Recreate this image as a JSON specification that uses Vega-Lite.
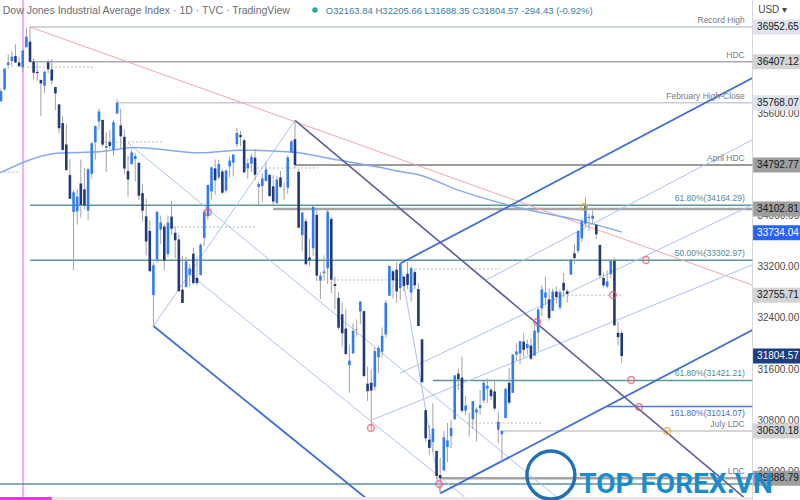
{
  "$schema": "https://vega.github.io/schema/vega-lite/v6.json",
  "width": 752,
  "height": 500,
  "autosize": {"type": "none"},
  "padding": {"left": 0, "top": 0, "right": 48, "bottom": 0},
  "background": "white",
  "config": {"view": {"stroke": null}, "font": "Liberation Sans"},
  "resolve": {"scale": {"color": "independent"}},
  "datasets": {
    "one": [{}],
    "candles": [
      {"i":-8,"o":35790,"h":35988,"l":35780,"c":35950},
      {"i":-7,"o":35975,"h":36303,"l":35955,"c":36302},
      {"i":-6,"o":36357,"h":36527,"l":36302,"c":36398},
      {"i":-5,"o":36421,"h":36572,"l":36330,"c":36488},
      {"i":-4,"o":36497,"h":36679,"l":36393,"c":36398},
      {"i":-3,"o":36398,"h":36484,"l":36328,"c":36338},
      {"i":-2,"o":36321,"h":36595,"l":36246,"c":36585},
      {"i":-1,"o":36636,"h":36934,"l":36636,"c":36800},
      {"i":0,"o":36722,"h":36952.65,"l":36406,"c":36407},
      {"i":1,"o":36409,"h":36464,"l":36133,"c":36236},
      {"i":2,"o":36250,"h":36384,"l":36111,"c":36232},
      {"i":3,"o":36125,"h":36125,"l":35555,"c":36069},
      {"i":4,"o":36032,"h":36273,"l":35917,"c":36252},
      {"i":5,"o":36401,"h":36440,"l":36232,"c":36290},
      {"i":6,"o":36288,"h":36451,"l":36050,"c":36114},
      {"i":7,"o":36014,"h":36014,"l":35652,"c":35912},
      {"i":8,"o":35742,"h":35742,"l":35288,"c":35369},
      {"i":9,"o":35449,"h":35552,"l":35009,"c":35029},
      {"i":10,"o":35115,"h":35438,"l":34700,"c":34715},
      {"i":11,"o":34634,"h":34883,"l":34258,"c":34265},
      {"i":12,"o":34058,"h":34404,"l":33150,"c":34365},
      {"i":13,"o":34067,"h":34414,"l":33860,"c":34298},
      {"i":14,"o":34503,"h":34881,"l":33970,"c":34168},
      {"i":15,"o":34411,"h":34746,"l":34100,"c":34160},
      {"i":16,"o":34079,"h":34747,"l":33934,"c":34725},
      {"i":17,"o":34655,"h":35152,"l":34584,"c":35132},
      {"i":18,"o":35150,"h":35407,"l":34874,"c":35405},
      {"i":19,"o":35474,"h":35677,"l":35348,"c":35630},
      {"i":20,"o":35499,"h":35499,"l":35072,"c":35111},
      {"i":21,"o":35063,"h":35304,"l":34683,"c":35089},
      {"i":22,"o":35152,"h":35334,"l":35045,"c":35091},
      {"i":23,"o":35031,"h":35498,"l":34937,"c":35463},
      {"i":24,"o":35598,"h":35824,"l":35598,"c":35768},
      {"i":25,"o":35412,"h":35676,"l":35041,"c":35242},
      {"i":26,"o":35234,"h":35345,"l":34653,"c":34738},
      {"i":27,"o":34698,"h":34934,"l":34296,"c":34566},
      {"i":28,"o":34805,"h":35034,"l":34805,"c":34989},
      {"i":29,"o":34887,"h":34979,"l":34537,"c":34934},
      {"i":30,"o":34824,"h":34850,"l":34248,"c":34312},
      {"i":31,"o":34353,"h":34490,"l":33906,"c":34079},
      {"i":32,"o":33990,"h":34268,"l":33380,"c":33597},
      {"i":33,"o":33761,"h":33927,"l":33115,"c":33132},
      {"i":34,"o":32757,"h":33272,"l":32272,"c":33224},
      {"i":35,"o":33308,"h":34085,"l":33266,"c":34059},
      {"i":36,"o":33783,"h":34000,"l":33559,"c":33893},
      {"i":37,"o":33830,"h":33859,"l":33149,"c":33295},
      {"i":38,"o":33401,"h":34002,"l":33354,"c":33891},
      {"i":39,"o":33985,"h":34236,"l":33704,"c":33795},
      {"i":40,"o":33732,"h":33829,"l":33333,"c":33615},
      {"i":41,"o":33627,"h":33711,"l":32805,"c":32818},
      {"i":42,"o":32842,"h":33371,"l":32632,"c":32633},
      {"i":43,"o":32882,"h":33354,"l":32882,"c":33286},
      {"i":44,"o":33074,"h":33239,"l":32894,"c":33174},
      {"i":45,"o":33405,"h":33495,"l":32920,"c":32944},
      {"i":46,"o":33027,"h":33346,"l":32905,"c":32945},
      {"i":47,"o":33069,"h":33568,"l":33069,"c":33545},
      {"i":48,"o":33653,"h":34099,"l":33527,"c":34063},
      {"i":49,"o":33992,"h":34480,"l":33937,"c":34481},
      {"i":50,"o":34378,"h":34770,"l":34252,"c":34755},
      {"i":51,"o":34739,"h":34879,"l":34328,"c":34553},
      {"i":52,"o":34598,"h":34876,"l":34569,"c":34808},
      {"i":53,"o":34691,"h":34726,"l":34343,"c":34359},
      {"i":54,"o":34394,"h":34721,"l":34360,"c":34707},
      {"i":55,"o":34770,"h":34925,"l":34600,"c":34862},
      {"i":56,"o":34830,"h":34966,"l":34613,"c":34955},
      {"i":57,"o":35119,"h":35372,"l":35074,"c":35294},
      {"i":58,"o":35263,"h":35325,"l":35085,"c":35229},
      {"i":59,"o":35180,"h":35208,"l":34670,"c":34678},
      {"i":60,"o":34740,"h":34889,"l":34577,"c":34818},
      {"i":61,"o":34813,"h":34976,"l":34683,"c":34922},
      {"i":62,"o":34908,"h":35047,"l":34552,"c":34641},
      {"i":63,"o":34451,"h":34528,"l":34157,"c":34497},
      {"i":64,"o":34464,"h":34667,"l":34216,"c":34583},
      {"i":65,"o":34543,"h":34835,"l":34543,"c":34721},
      {"i":66,"o":34637,"h":34656,"l":34293,"c":34308},
      {"i":67,"o":34460,"h":34633,"l":34168,"c":34221},
      {"i":68,"o":34197,"h":34624,"l":34175,"c":34565},
      {"i":69,"o":34599,"h":34700,"l":34430,"c":34452},
      {"i":70,"o":34416,"h":34516,"l":34245,"c":34412},
      {"i":71,"o":34438,"h":34946,"l":34341,"c":34912},
      {"i":72,"o":34988,"h":35186,"l":34976,"c":35161},
      {"i":73,"o":35196,"h":35492,"l":34738,"c":34793},
      {"i":74,"o":34687,"h":34732,"l":33810,"c":33811},
      {"i":75,"o":33698,"h":34060,"l":33451,"c":34049},
      {"i":76,"o":33914,"h":33961,"l":33221,"c":33240},
      {"i":77,"o":33346,"h":33641,"l":33209,"c":33302},
      {"i":78,"o":33489,"h":34157,"l":33370,"c":34137},
      {"i":79,"o":34012,"h":34123,"l":32977,"c":33061},
      {"i":80,"o":32982,"h":33118,"l":32696,"c":33062},
      {"i":81,"o":33100,"h":33377,"l":32983,"c":33128},
      {"i":82,"o":33177,"h":34117,"l":32932,"c":34061},
      {"i":83,"o":33949,"h":33978,"l":32792,"c":32998},
      {"i":84,"o":32930,"h":33046,"l":32542,"c":32899},
      {"i":85,"o":32713,"h":32802,"l":32216,"c":32246},
      {"i":86,"o":32457,"h":32641,"l":31952,"c":32160},
      {"i":87,"o":32233,"h":32536,"l":31825,"c":31834},
      {"i":88,"o":31660,"h":31983,"l":31228,"c":31730},
      {"i":89,"o":31844,"h":32316,"l":31844,"c":32196},
      {"i":90,"o":32216,"h":32375,"l":32107,"c":32223},
      {"i":91,"o":32501,"h":32661,"l":32300,"c":32654},
      {"i":92,"o":32506,"h":32506,"l":31474,"c":31490},
      {"i":93,"o":31371,"h":31638,"l":31098,"c":31253},
      {"i":94,"o":31385,"h":31585,"l":30636,"c":31262},
      {"i":95,"o":31322,"h":31937,"l":31264,"c":31880},
      {"i":96,"o":31783,"h":31964,"l":31535,"c":31928},
      {"i":97,"o":31871,"h":32250,"l":31783,"c":32120},
      {"i":98,"o":32141,"h":32679,"l":32092,"c":32637},
      {"i":99,"o":32747,"h":33213,"l":32747,"c":33213},
      {"i":100,"o":33130,"h":33144,"l":32703,"c":32990},
      {"i":101,"o":33156,"h":33271,"l":32637,"c":32813},
      {"i":102,"o":32865,"h":33252,"l":32675,"c":33248},
      {"i":103,"o":33047,"h":33047,"l":32813,"c":32900},
      {"i":104,"o":33091,"h":33273,"l":32855,"c":32916},
      {"i":105,"o":32796,"h":33203,"l":32658,"c":33180},
      {"i":106,"o":33116,"h":33150,"l":32852,"c":32910},
      {"i":107,"o":32851,"h":32945,"l":32270,"c":32273},
      {"i":108,"o":32065,"h":32065,"l":31388,"c":31393},
      {"i":109,"o":30956,"h":30980,"l":30457,"c":30517},
      {"i":110,"o":30493,"h":30722,"l":30248,"c":30365},
      {"i":111,"o":30456,"h":31066,"l":30301,"c":30669},
      {"i":112,"o":30318,"h":30318,"l":29872,"c":29927},
      {"i":113,"o":29941,"h":30215,"l":29653,"c":29889},
      {"i":114,"o":30011,"h":30628,"l":30011,"c":30530},
      {"i":115,"o":30379,"h":30756,"l":30143,"c":30483},
      {"i":116,"o":30548,"h":30804,"l":30363,"c":30677},
      {"i":117,"o":30812,"h":31500,"l":30812,"c":31501},
      {"i":118,"o":31528,"h":31607,"l":31271,"c":31439},
      {"i":119,"o":31466,"h":31794,"l":30916,"c":30947},
      {"i":120,"o":30949,"h":31180,"l":30877,"c":31029},
      {"i":121,"o":30775,"h":30919,"l":30543,"c":30775},
      {"i":122,"o":30814,"h":31102,"l":30662,"c":31097},
      {"i":123,"o":30919,"h":30999,"l":30468,"c":30968},
      {"i":124,"o":30987,"h":31270,"l":30885,"c":31037},
      {"i":125,"o":31106,"h":31427,"l":31060,"c":31385},
      {"i":126,"o":31295,"h":31452,"l":31070,"c":31338},
      {"i":127,"o":31275,"h":31307,"l":31108,"c":31174},
      {"i":128,"o":31249,"h":31403,"l":30943,"c":30982},
      {"i":129,"o":30651,"h":30933,"l":30438,"c":30773},
      {"i":130,"o":30580,"h":30643,"l":30143,"c":30630},
      {"i":131,"o":30831,"h":31310,"l":30831,"c":31288},
      {"i":132,"o":31384,"h":31616,"l":31043,"c":31073},
      {"i":133,"o":31228,"h":31829,"l":31228,"c":31827},
      {"i":134,"o":31826,"h":32003,"l":31733,"c":31875},
      {"i":135,"o":31842,"h":32039,"l":31677,"c":32036},
      {"i":136,"o":32029,"h":32167,"l":31785,"c":31900},
      {"i":137,"o":31927,"h":32060,"l":31824,"c":31990},
      {"i":138,"o":31967,"h":32081,"l":31735,"c":31762},
      {"i":139,"o":31809,"h":32278,"l":31809,"c":32198},
      {"i":140,"o":32169,"h":32555,"l":31880,"c":32530},
      {"i":141,"o":32549,"h":32910,"l":32430,"c":32845},
      {"i":142,"o":32715,"h":33044,"l":32597,"c":32798},
      {"i":143,"o":32692,"h":32864,"l":32356,"c":32397},
      {"i":144,"o":32510,"h":32856,"l":32510,"c":32813},
      {"i":145,"o":32811,"h":32891,"l":32620,"c":32727},
      {"i":146,"o":32560,"h":32849,"l":32520,"c":32803},
      {"i":147,"o":32949,"h":33105,"l":32718,"c":32833},
      {"i":148,"o":32816,"h":32852,"l":32637,"c":32775},
      {"i":149,"o":33076,"h":33326,"l":33076,"c":33310},
      {"i":150,"o":33409,"h":33563,"l":33250,"c":33337},
      {"i":151,"o":33449,"h":33761,"l":33413,"c":33761},
      {"i":152,"o":33646,"h":33954,"l":33589,"c":33913},
      {"i":153,"o":33874,"h":34281,"l":33832,"c":34152},
      {"i":154,"o":33966,"h":34029,"l":33761,"c":33981},
      {"i":155,"o":33951,"h":34082,"l":33881,"c":33999},
      {"i":156,"o":33859,"h":33865,"l":33632,"c":33707},
      {"i":157,"o":33542,"h":33542,"l":33015,"c":33064},
      {"i":158,"o":33025,"h":33109,"l":32879,"c":32910},
      {"i":159,"o":32890,"h":33142,"l":32864,"c":32970},
      {"i":160,"o":33085,"h":33311,"l":33025,"c":33292},
      {"i":161,"o":33294,"h":33342,"l":32282,"c":32283},
      {"i":162,"o":32166,"h":32338,"l":31971,"c":32099},
      {"i":163,"o":32163.84,"h":32205.66,"l":31688.35,"c":31804.57}
    ],
    "ma": [
      {"i":-8.3,"p":34670},{"i":8,"p":34980},{"i":19,"p":35000},{"i":29,"p":35065},
      {"i":47,"p":34985},{"i":58,"p":35025},{"i":72,"p":34995},{"i":85,"p":34870},
      {"i":96,"p":34760},{"i":102,"p":34690},{"i":107,"p":34640},{"i":118,"p":34400},
      {"i":135,"p":34120},{"i":151,"p":33930},{"i":163,"p":33745}
    ],
    "levels": [
      {"p":36952.65,"a":0,"b":199,"g":"rec"},
      {"p":36407.12,"a":0,"b":199,"g":"hdc"},
      {"p":35768.07,"a":24,"b":199,"g":"feb"},
      {"p":34792.77,"a":73,"b":199,"g":"apr"},
      {"p":34164.29,"a":0,"b":199,"g":"teal"},
      {"p":33302.97,"a":0,"b":199,"g":"teal"},
      {"p":31421.21,"a":111,"b":199,"g":"teal"},
      {"p":31014.07,"a":159,"b":199,"g":"blue"},
      {"p":30630.18,"a":130,"b":199,"g":"jul"},
      {"p":29800,"a":-8.3,"b":199,"g":"teal"}
    ],
    "thick": [
      {"p":34102.81,"a":67,"b":199},
      {"p":29888.79,"a":113,"b":199}
    ],
    "dots": [
      {"p":36326,"a":-0.8,"b":17.4},
      {"p":35153,"a":19.3,"b":36.6},
      {"p":34683,"a":-8.3,"b":-2.8},
      {"p":33822,"a":39.4,"b":62},
      {"p":34746,"a":62.5,"b":79.3},
      {"p":32993,"a":83.5,"b":102},
      {"p":33165,"a":106,"b":129.5},
      {"p":30755,"a":120.4,"b":141.3},
      {"p":32756,"a":148,"b":163}
    ],
    "diag": [
      {"id":"pink","g":"pink","i":0,"p":36952.65},{"id":"pink","g":"pink","i":198.9,"p":32915},
      {"id":"h1","g":"light","i":34,"p":32272},{"id":"h1","g":"light","i":73,"p":35492},
      {"id":"h2","g":"light","i":102,"p":33252},{"id":"h2","g":"light","i":113,"p":29653},
      {"id":"lda","g":"light","i":27,"p":35137},{"id":"lda","g":"light","i":146,"p":29550},
      {"id":"ldb","g":"light","i":44,"p":33087},{"id":"ldb","g":"light","i":120.7,"p":29550},
      {"id":"lua","g":"light","i":125.6,"p":32993},{"id":"lua","g":"light","i":198.9,"p":35184},
      {"id":"lub","g":"light","i":102,"p":31537},{"id":"lub","g":"light","i":198.9,"p":34167},
      {"id":"luc","g":"light","i":94.2,"p":30802},{"id":"luc","g":"light","i":198.9,"p":33228},
      {"id":"a","g":"bold","i":34,"p":32272},{"id":"a","g":"bold","i":95,"p":29466},
      {"id":"b5","g":"bold","i":102,"p":33252},{"id":"b5","g":"bold","i":199,"p":36154},
      {"id":"b6","g":"bold","i":113,"p":29653},{"id":"b6","g":"bold","i":199,"p":32210},
      {"id":"sl","g":"slate","i":73,"p":35492},{"id":"sl","g":"slate","i":199,"p":29480}
    ],
    "circles": [
      {"i":49,"p":34057,"k":"red"},{"i":93.9,"p":30677,"k":"red"},{"i":112.7,"p":29800,"k":"red"},
      {"i":139.7,"p":32336,"k":"red"},{"i":152.6,"p":34135,"k":"orange"},{"i":160.6,"p":32758,"k":"red"},
      {"i":169.7,"p":33306,"k":"red"},{"i":165.6,"p":31428,"k":"red"},{"i":167.8,"p":31005,"k":"red"},
      {"i":175.5,"p":30630,"k":"orange"}
    ],
    "labUp": [
      {"t":"Record High","p":36952.65,"k":"gray"},
      {"t":"HDC","p":36407.12,"k":"gray"},
      {"t":"February High-Close","p":35768.07,"k":"gray"},
      {"t":"April HDC","p":34792.77,"k":"gray"},
      {"t":"61.80%(34164.29)","p":34164.29,"k":"teal"},
      {"t":"50.00%(33302.97)","p":33302.97,"k":"teal"},
      {"t":"61.80%(31421.21)","p":31421.21,"k":"teal"},
      {"t":"July LDC","p":30630.18,"k":"gray"},
      {"t":"LDC","p":29888.79,"k":"gray"}
    ],
    "labDown": [
      {"t":"161.80%(31014.07)","p":31014.07,"k":"blue"}
    ],
    "tags": [
      {"t":"36952.65","p":36952.65,"k":"lt"},
      {"t":"36407.12","p":36407.12,"k":"md"},
      {"t":"35768.07","p":35768.07,"k":"lt"},
      {"t":"34792.77","p":34792.77,"k":"dk"},
      {"t":"34102.81","p":34102.81,"k":"dk"},
      {"t":"33734.04","p":33734.04,"k":"blue"},
      {"t":"32755.71","p":32755.71,"k":"md"},
      {"t":"31804.57","p":31804.57,"k":"navy"},
      {"t":"30630.18","p":30630.18,"k":"md"},
      {"t":"29888.79","p":29888.79,"k":"dk"}
    ]
  },
  "layer": [
    {
      "data": {"name": "one"},
      "mark": {"type": "rule", "color": "#f6a8f4", "strokeWidth": 2},
      "encoding": {
        "x": {"datum": -1.9, "type": "quantitative", "scale": {"domain": [-8.264, 198.898], "nice": false, "zero": false}, "axis": null},
        "y": {"datum": 37375, "type": "quantitative", "scale": {"domain": [29550, 37375], "nice": false, "zero": false},
              "axis": {"orient": "right", "values": [30000,30400,30800,31200,31600,32000,32400,32800,33200,33600,34000,34400,34800,35200,35600,36000,36400,36800],
                       "format": ".2f", "ticks": false, "grid": false, "domain": true, "domainColor": "#d6d8de", "labelColor": "#4a4a4a",
                       "labelFontSize": 10, "labelFont": "Liberation Sans", "labelPadding": 5, "title": null, "labelOverlap": false, "labelBound": false, "labelFlush": false, "zindex": 0}},
        "y2": {"datum": 29550}
      }
    },
    {
      "data": {"name": "levels"},
      "mark": {"type": "rule", "strokeWidth": 1.5},
      "encoding": {
        "x": {"field": "a", "type": "quantitative"},
        "x2": {"field": "b"},
        "y": {"field": "p", "type": "quantitative", "title": null},
        "color": {"field": "g", "type": "nominal", "legend": null,
                  "scale": {"domain": ["rec","hdc","feb","apr","teal","blue","jul"], "range": ["#bcc6d8","#a8aab0","#c9ccd3","#7a7a7a","#5d979c","#4c7ee0","#c8c8c8"]}}
      }
    },
    {
      "data": {"name": "thick"},
      "mark": {"type": "rule", "strokeWidth": 2.5, "color": "#a4a4a4"},
      "encoding": {
        "x": {"field": "a", "type": "quantitative"},
        "x2": {"field": "b"},
        "y": {"field": "p", "type": "quantitative", "title": null}
      }
    },
    {
      "data": {"name": "dots"},
      "mark": {"type": "rule", "strokeWidth": 1, "color": "#b8b8b8", "strokeDash": [2, 2]},
      "encoding": {
        "x": {"field": "a", "type": "quantitative"},
        "x2": {"field": "b"},
        "y": {"field": "p", "type": "quantitative", "title": null}
      }
    },
    {
      "data": {"name": "diag"},
      "transform": [{"filter": "datum.g == 'pink'"}],
      "mark": {"type": "line", "clip": true, "strokeWidth": 1, "color": "#f5a5a5"},
      "encoding": {
        "x": {"field": "i", "type": "quantitative"},
        "y": {"field": "p", "type": "quantitative", "title": null},
        "detail": {"field": "id"}
      }
    },
    {
      "data": {"name": "diag"},
      "transform": [{"filter": "datum.g == 'light'"}],
      "mark": {"type": "line", "clip": true, "strokeWidth": 1, "color": "#a9c3f3"},
      "encoding": {
        "x": {"field": "i", "type": "quantitative"},
        "y": {"field": "p", "type": "quantitative", "title": null},
        "detail": {"field": "id"}
      }
    },
    {
      "data": {"name": "ma"},
      "mark": {"type": "line", "clip": true, "strokeWidth": 1.5, "color": "#86a9f0", "interpolate": "monotone"},
      "encoding": {
        "x": {"field": "i", "type": "quantitative"},
        "y": {"field": "p", "type": "quantitative", "title": null}
      }
    },
    {
      "data": {"name": "diag"},
      "transform": [{"filter": "datum.g == 'bold'"}],
      "mark": {"type": "line", "clip": true, "strokeWidth": 1.8, "color": "#3f70d6"},
      "encoding": {
        "x": {"field": "i", "type": "quantitative"},
        "y": {"field": "p", "type": "quantitative", "title": null},
        "detail": {"field": "id"}
      }
    },
    {
      "data": {"name": "diag"},
      "transform": [{"filter": "datum.g == 'slate'"}],
      "mark": {"type": "line", "clip": true, "strokeWidth": 1.6, "color": "#5b5e99"},
      "encoding": {
        "x": {"field": "i", "type": "quantitative"},
        "y": {"field": "p", "type": "quantitative", "title": null},
        "detail": {"field": "id"}
      }
    },
    {
      "data": {"name": "candles"},
      "mark": {"type": "rule", "strokeWidth": 1, "color": "#a3a3a3"},
      "encoding": {
        "x": {"field": "i", "type": "quantitative"},
        "y": {"field": "l", "type": "quantitative", "title": null},
        "y2": {"field": "h"}
      }
    },
    {
      "data": {"name": "candles"},
      "mark": {"type": "rule", "strokeWidth": 2.6, "strokeCap": "butt"},
      "encoding": {
        "x": {"field": "i", "type": "quantitative"},
        "y": {"field": "o", "type": "quantitative", "title": null},
        "y2": {"field": "c"},
        "color": {"condition": {"test": "datum.c >= datum.o", "value": "#2f7cf4"}, "value": "#20397a"}
      }
    },
    {
      "data": {"name": "circles"},
      "mark": {"type": "point", "shape": "circle", "filled": false, "size": 45, "strokeWidth": 1.6},
      "encoding": {
        "x": {"field": "i", "type": "quantitative"},
        "y": {"field": "p", "type": "quantitative", "title": null},
        "color": {"field": "k", "type": "nominal", "legend": null, "scale": {"domain": ["red","orange"], "range": ["#ee5a6c","#f5a623"]}}
      }
    },
    {
      "data": {"name": "labUp"},
      "mark": {"type": "text", "align": "right", "baseline": "bottom", "dy": -2, "fontSize": 8.5, "font": "Liberation Sans"},
      "encoding": {
        "x": {"datum": 196.9, "type": "quantitative"},
        "y": {"field": "p", "type": "quantitative", "title": null},
        "text": {"field": "t"},
        "color": {"field": "k", "type": "nominal", "legend": null, "scale": {"domain": ["gray","teal"], "range": ["#787b86","#4f8d93"]}}
      }
    },
    {
      "data": {"name": "labDown"},
      "mark": {"type": "text", "align": "right", "baseline": "top", "dy": 3, "fontSize": 8.5, "font": "Liberation Sans", "color": "#3d6fd6"},
      "encoding": {
        "x": {"datum": 196.9, "type": "quantitative"},
        "y": {"field": "p", "type": "quantitative", "title": null},
        "text": {"field": "t"}
      }
    },
    {
      "data": {"name": "tags"},
      "mark": {"type": "rule", "strokeWidth": 15, "strokeCap": "butt"},
      "encoding": {
        "x": {"datum": 199.2, "type": "quantitative"},
        "x2": {"datum": 212.5},
        "y": {"field": "p", "type": "quantitative", "title": null},
        "color": {"field": "k", "type": "nominal", "legend": null,
                  "scale": {"domain": ["lt","md","dk","blue","navy"], "range": ["#e0e3eb","#d3d3d3","#9e9e9e","#2962ff","#1c3d7e"]}}
      }
    },
    {
      "data": {"name": "tags"},
      "mark": {"type": "text", "align": "left", "baseline": "middle", "dx": 4, "fontSize": 10, "font": "Liberation Sans"},
      "encoding": {
        "x": {"datum": 199.2, "type": "quantitative"},
        "y": {"field": "p", "type": "quantitative", "title": null},
        "text": {"field": "t"},
        "color": {"field": "k", "type": "nominal", "legend": null,
                  "scale": {"domain": ["lt","md","dk","blue","navy"], "range": ["#131722","#131722","#131722","#ffffff","#ffffff"]}}
      }
    },
    {
      "data": {"name": "one"},
      "mark": {"type": "text", "align": "left", "baseline": "middle", "fontSize": 10, "color": "#4a4a4a", "font": "Liberation Sans"},
      "encoding": {
        "x": {"datum": 200.6, "type": "quantitative"},
        "y": {"datum": 37218, "type": "quantitative", "title": null},
        "text": {"value": "USD ▾"}
      }
    },
    {
      "data": {"name": "one"},
      "mark": {"type": "rule", "strokeWidth": 4, "color": "#e8e8e8", "strokeCap": "butt"},
      "encoding": {
        "x": {"datum": 6, "type": "quantitative"},
        "x2": {"datum": 198.9},
        "y": {"datum": 29567, "type": "quantitative", "title": null}
      }
    },
    {
      "data": {"name": "one"},
      "mark": {"type": "rule", "strokeWidth": 4, "color": "#ff2dff", "strokeCap": "butt"},
      "encoding": {
        "x": {"datum": -8.3, "type": "quantitative"},
        "x2": {"datum": 6},
        "y": {"datum": 29567, "type": "quantitative", "title": null}
      }
    },
    {
      "data": {"name": "one"},
      "mark": {"type": "point", "shape": "circle", "filled": false, "size": 2300, "strokeWidth": 3.5, "color": "#1f70b6", "opacity": 1},
      "encoding": {
        "x": {"datum": 143.5, "type": "quantitative"},
        "y": {"datum": 29940, "type": "quantitative", "title": null}
      }
    },
    {
      "data": {"name": "one"},
      "mark": {"type": "text", "align": "left", "baseline": "alphabetic", "fontSize": 28, "fontWeight": "bold", "font": "Roboto", "color": "#1b8ccb"},
      "encoding": {
        "x": {"datum": 151.3, "type": "quantitative"},
        "y": {"datum": 29660, "type": "quantitative", "title": null},
        "text": {"value": "TOP FOREX.VN"}
      }
    },
    {
      "data": {"name": "one"},
      "mark": {"type": "text", "align": "left", "baseline": "middle", "fontSize": 10.5, "color": "#6a6d78", "font": "Liberation Sans"},
      "encoding": {
        "x": {"datum": -7.5, "type": "quantitative"},
        "y": {"datum": 37203, "type": "quantitative", "title": null},
        "text": {"value": "Dow Jones Industrial Average Index · 1D · TVC · TradingView"}
      }
    },
    {
      "data": {"name": "one"},
      "mark": {"type": "point", "shape": "circle", "filled": true, "size": 30, "color": "#26a69a", "opacity": 1},
      "encoding": {
        "x": {"datum": 78.5, "type": "quantitative"},
        "y": {"datum": 37218, "type": "quantitative", "title": null}
      }
    },
    {
      "data": {"name": "one"},
      "mark": {"type": "text", "align": "left", "baseline": "middle", "fontSize": 9.5, "color": "#3d7aa6", "font": "Liberation Sans"},
      "encoding": {
        "x": {"datum": 81.5, "type": "quantitative"},
        "y": {"datum": 37203, "type": "quantitative", "title": null},
        "text": {"value": "O32163.84 H32205.66 L31688.35 C31804.57 -294.43 (-0.92%)"}
      }
    }
  ]
}
